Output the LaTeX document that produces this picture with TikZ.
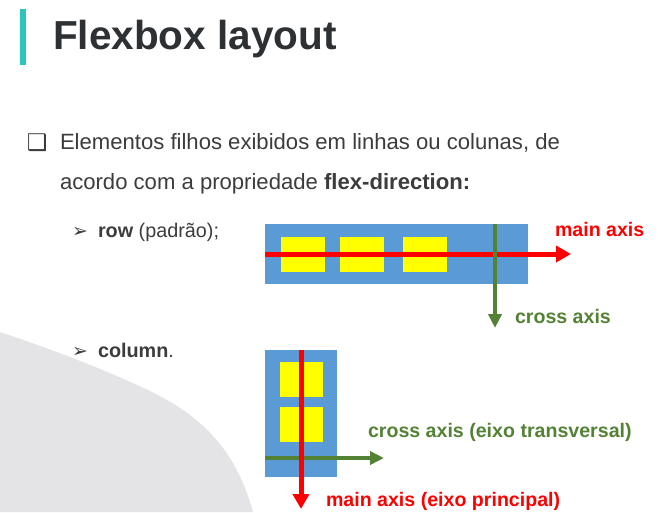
\documentclass[tikz,border=0pt]{standalone}
\usepackage{fontspec}
\setmainfont{Liberation Sans}
\newfontfamily\symfont{DejaVu Sans}
\usetikzlibrary{arrows.meta}
\definecolor{titlegray}{HTML}{2E3134}
\definecolor{textgray}{HTML}{3C3C3C}
\definecolor{accent}{HTML}{2EC4BE}
\definecolor{swoosh}{HTML}{E4E3E6}
\definecolor{boxblue}{HTML}{5B9BD5}
\definecolor{itemyellow}{HTML}{FFFF00}
\definecolor{mainred}{HTML}{FF0000}
\definecolor{crossgreen}{HTML}{548235}
\tikzset{
  txt/.style={anchor=base west, inner sep=0pt, outer sep=0pt, text=textgray},
  container/.style={fill=boxblue, draw=none, inner sep=0pt, outer sep=0pt, anchor=north west},
  item/.style={fill=itemyellow, draw=none, inner sep=0pt, outer sep=0pt, anchor=north west},
  mainaxis/.style={draw=mainred, line width=5pt, -{Triangle[length=15pt,width=16pt]}},
  crossaxis/.style={draw=crossgreen, line width=4pt, -{Triangle[length=14pt,width=13pt]}},
  axislabel/.style={anchor=base west, inner sep=0pt, outer sep=0pt, font=\fontsize{19.6}{22}\selectfont\bfseries},
}
\begin{document}
\begin{tikzpicture}[x=1pt, y=-1pt]
  \useasboundingbox (0,0) rectangle (658,512);
  \fill[white] (0,0) rectangle (658,512);
  % decorative swoosh in the lower left corner
  \fill[swoosh] (0,332) .. controls (60,352) and (110,372) .. (150,391)
    .. controls (210,420) and (238,458) .. (253,512) -- (0,512) -- cycle;
  % title with accent bar
  \fill[accent] (20,9) rectangle (26,65);
  \node[txt, text=titlegray, font=\fontsize{40.5}{46}\selectfont\bfseries] (title) at (53,49) {Flexbox layout};
  % body text
  \node[txt, font=\symfont\fontsize{23}{26}\selectfont] (bul) at (27,150) {❑};
  \node[txt, font=\fontsize{22.1}{26}\selectfont] (line1) at (60,149) {Elementos filhos exibidos em linhas ou colunas, de};
  \node[txt, font=\fontsize{22.1}{26}\selectfont] (line2) at (60,189) {acordo com a propriedade \textbf{flex-direction:}};
  \node[txt, font=\symfont\fontsize{19}{22}\selectfont] (arrA) at (72,237) {➢};
  \node[txt, font=\fontsize{19.8}{22}\selectfont] (row) at (98,237) {\textbf{row} (padrão);};
  \node[txt, font=\symfont\fontsize{19}{22}\selectfont] (arrB) at (72,357) {➢};
  \node[txt, font=\fontsize{19.8}{22}\selectfont] (col) at (98,357) {\textbf{column}.};
  % flex-direction: row
  \node[container, minimum width=263pt, minimum height=60pt] (rowbox) at (265,224) {};
  \node[item, minimum width=44pt, minimum height=35pt] (r1) at (281,237) {};
  \node[item, minimum width=44pt, minimum height=35pt] (r2) at (340,237) {};
  \node[item, minimum width=44pt, minimum height=35pt] (r3) at (403,237) {};
  \coordinate (rowmainend) at (571,254);
  \coordinate (rowcrossstart) at (495,224);
  \coordinate (rowcrossend) at (495,328);
  \draw[mainaxis] (rowbox.west) -- (rowmainend);
  \draw[crossaxis] (rowcrossstart) -- (rowcrossend);
  \node[axislabel, text=mainred] (rowmainlbl) at (555,236) {main axis};
  \node[axislabel, text=crossgreen] (rowcrosslbl) at (515,323) {cross axis};
  % flex-direction: column
  \node[container, minimum width=72pt, minimum height=127pt] (colbox) at (265,350) {};
  \node[item, minimum width=43pt, minimum height=35pt] (c1) at (280,362) {};
  \node[item, minimum width=43pt, minimum height=35pt] (c2) at (280,407) {};
  \coordinate (colcrossstart) at (265,458);
  \coordinate (colcrossend) at (384,458);
  \coordinate (colmainend) at (301,509);
  \draw[crossaxis] (colcrossstart) -- (colcrossend);
  \draw[mainaxis] (colbox.north) -- (colmainend);
  \node[axislabel, text=crossgreen] (colcrosslbl) at (368,437) {cross axis (eixo transversal)};
  \node[axislabel, text=mainred] (colmainlbl) at (326,506) {main axis (eixo principal)};
\end{tikzpicture}
\end{document}
